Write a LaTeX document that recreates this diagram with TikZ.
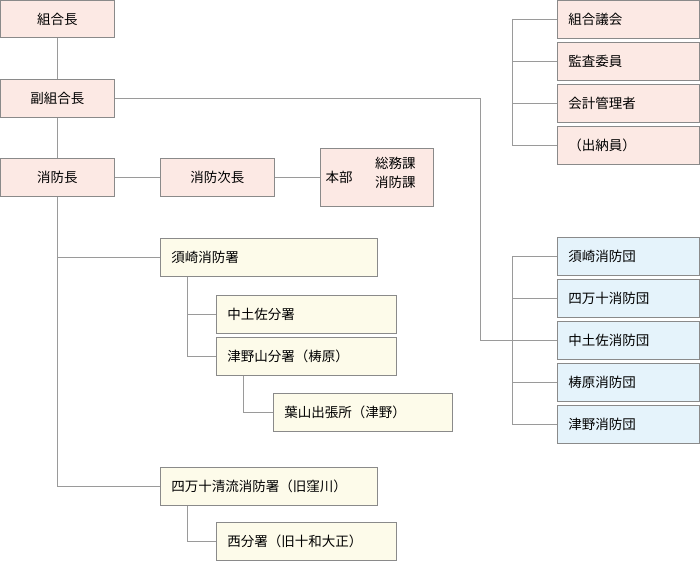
\documentclass[tikz,border=0pt]{standalone}
\usepackage{fontspec}
\setmainfont{Noto Sans CJK JP}
\definecolor{pinkf}{HTML}{FCE9E4}
\definecolor{creamf}{HTML}{FDFBEA}
\definecolor{bluef}{HTML}{E5F3FB}
\definecolor{bord}{HTML}{8A8A8A}
\definecolor{ln}{HTML}{9A9A9A}
\tikzset{x=1pt,y=-1pt,
 bx/.style={draw=bord,line width=0.8pt,anchor=north west,inner xsep=11pt,inner ysep=0pt,align=left,font=\fontsize{13.5}{16}\selectfont},
 pk/.style={bx,fill=pinkf},cr/.style={bx,fill=creamf},bl/.style={bx,fill=bluef},
 ctr/.style={align=center},
 cn/.style={draw=ln,line width=0.8pt}}
\begin{document}
\begin{tikzpicture}
\useasboundingbox (0,0) rectangle (700,561);
\coordinate (v1) at (57,37);
\coordinate (v2) at (57,486);
\draw[cn] (v1) -- (v2);
\draw[cn] (57,257) -- (160,257);
\draw[cn] (v2) -- (160,486);
\draw[cn] (114,177) -- (320,177);
\draw[cn] (114,98) -- (480,98) -- (480,340) -- (557,340);
\draw[cn] (512,19) -- (512,145);
\foreach \y in {19,61,103,145} \draw[cn] (512,\y) -- (557,\y);
\draw[cn] (512,256) -- (512,424);
\foreach \y in {256,298,382,424} \draw[cn] (512,\y) -- (557,\y);
\draw[cn] (187,276) -- (187,356);
\draw[cn] (187,314) -- (216,314);
\draw[cn] (187,356) -- (216,356);
\draw[cn] (243,375) -- (243,412) -- (273,412);
\draw[cn] (187,505) -- (187,541) -- (216,541);
\node[pk,ctr,minimum height=37,text width=92] (a) at (0,0) {組合長};
\node[pk,ctr,minimum height=38,text width=92] (b) at (0,79) {副組合長};
\node[pk,ctr,minimum height=38,text width=92] (c) at (0,158) {消防長};
\node[pk,ctr,minimum height=38,text width=92] (d) at (160,158) {消防次長};
\node[pk,minimum height=58,text width=91] (e) at (320,148) {};
\node[anchor=west,font=\fontsize{13.5}{16}\selectfont] (e1) at (322,177) {本部};
\node[anchor=north west,align=left,font=\fontsize{13.5}{19}\selectfont,inner sep=0pt] (e2) at (375,157) {総務課\\消防課};
\node[cr,minimum height=38,text width=195] (f) at (160,238) {須崎消防署};
\node[cr,minimum height=38,text width=158] (g) at (216,295) {中土佐分署};
\node[cr,minimum height=38,text width=158] (h) at (216,337) {津野山分署（梼原）};
\node[cr,minimum height=38,text width=157] (i) at (273,393) {葉山出張所（津野）};
\node[cr,minimum height=38,text width=195] (j) at (160,467) {四万十清流消防署（旧窪川）};
\node[cr,minimum height=38,text width=158] (k) at (216,522) {西分署（旧十和大正）};
\foreach \n/\y/\t in {r1/0/組合議会,r2/42/監査委員,r3/84/会計管理者,r4/126/（出納員）}
  \node[pk,minimum height=38,text width=120] (\n) at (557,\y) {\t};
\foreach \n/\y/\t in {s1/237/須崎消防団,s2/279/四万十消防団,s3/321/中土佐消防団,s4/363/梼原消防団,s5/405/津野消防団}
  \node[bl,minimum height=38,text width=120] (\n) at (557,\y) {\t};
\end{tikzpicture}
\end{document}
